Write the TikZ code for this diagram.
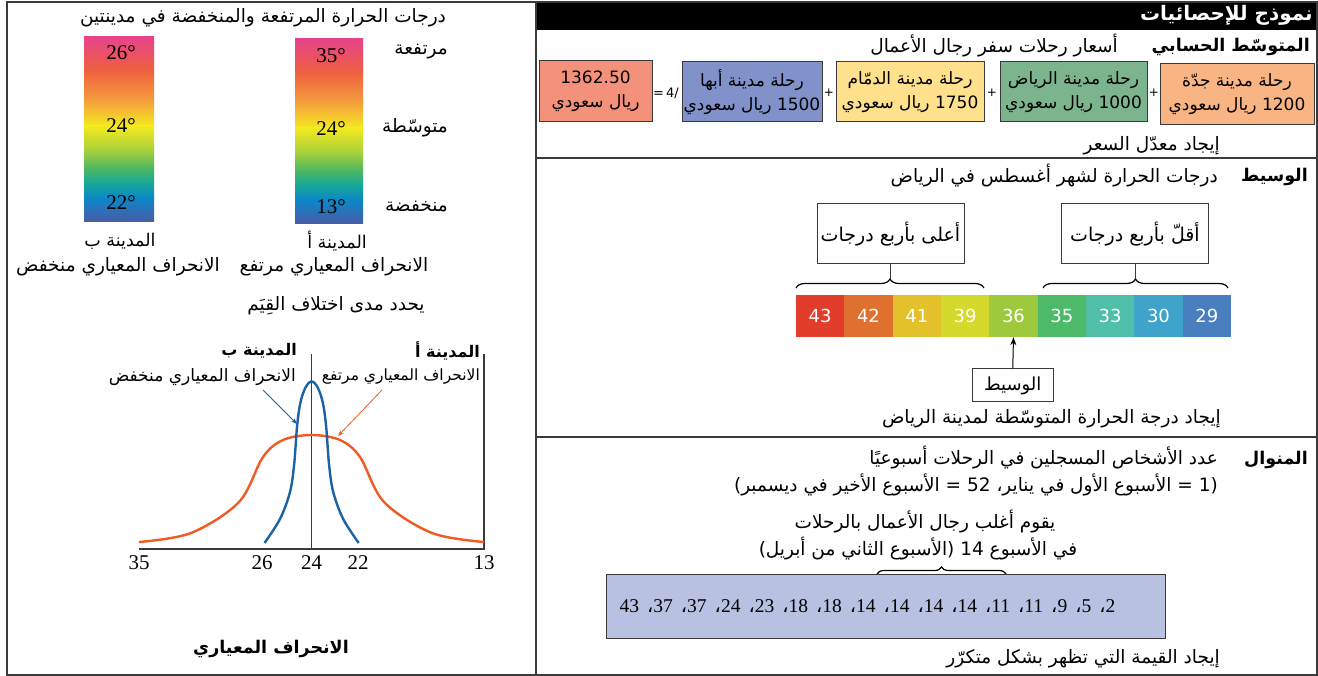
\documentclass[tikz,border=0pt]{standalone}
\usepackage{fontspec}
\setmainfont{Liberation Serif}
\newfontfamily\arfont[Script=Arabic]{DejaVu Sans}
\newfontfamily\symfont{DejaVu Sans}
\TeXXeTstate=1
\usetikzlibrary{decorations.pathreplacing,arrows.meta}
\newcommand\AR[1]{\beginR #1\endR}
\newcommand\lsep{{\arfont ،}\hskip 8pt\relax}

\definecolor{cLine}{HTML}{3A3A3A}
\definecolor{cOrangeBox}{HTML}{F9B483}
\definecolor{cGreenBox}{HTML}{7CB48E}
\definecolor{cYellowBox}{HTML}{FFE08D}
\definecolor{cBlueBox}{HTML}{8191CA}
\definecolor{cSalmonBox}{HTML}{F4917A}
\definecolor{cListBox}{HTML}{B8C1E1}
\definecolor{cCurveA}{HTML}{F05A24}
\definecolor{cCurveB}{HTML}{1C63A6}
% temperature strip
\definecolor{sA}{HTML}{E23C2B}
\definecolor{sB}{HTML}{E0702F}
\definecolor{sC}{HTML}{E2C12A}
\definecolor{sD}{HTML}{D4D92B}
\definecolor{sE}{HTML}{9DCA3C}
\definecolor{sF}{HTML}{4CBA68}
\definecolor{sG}{HTML}{4FBFA7}
\definecolor{sH}{HTML}{40A3CB}
\definecolor{sI}{HTML}{4A7FBF}
% thermometer gradient
\definecolor{gA}{HTML}{E6448A}
\definecolor{gB}{HTML}{EE603F}
\definecolor{gC}{HTML}{F59D3D}
\definecolor{gD}{HTML}{F4EA20}
\definecolor{gE}{HTML}{A9D03B}
\definecolor{gF}{HTML}{4CB762}
\definecolor{gG}{HTML}{17A79A}
\definecolor{gH}{HTML}{0B87C8}
\definecolor{gI}{HTML}{4A5BA7}

\newcommand\gradbar[4]{%
  \foreach \fa/\ca/\fb/\cb in {0/gA/0.18/gB,0.18/gB/0.34/gC,0.34/gC/0.48/gD,0.48/gD/0.61/gE,0.61/gE/0.71/gF,0.71/gF/0.79/gG,0.79/gG/0.87/gH,0.87/gH/1/gI}{%
    \shade[top color=\ca,bottom color=\cb] (#1,{#2+\fa*(#4-#2)}) rectangle (#3,{min(#4,#2+\fb*(#4-#2)+0.4)});
  }}

\tikzset{
  lbl/.style={inner sep=0pt,font=\arfont\fontsize{18.5}{22}\selectfont},
  lblm/.style={inner sep=0pt,font=\arfont\fontsize{17.5}{20}\selectfont},
  lbls/.style={inner sep=0pt,font=\arfont\fontsize{17}{20}\selectfont},
  lblb/.style={inner sep=0pt,font=\arfont\bfseries\fontsize{17.5}{20}\selectfont},
  lblbs/.style={inner sep=0pt,font=\arfont\bfseries\fontsize{16}{18}\selectfont},
  numr/.style={inner sep=0pt,font=\fontsize{21}{23}\selectfont},
  frame/.style={draw=cLine,line width=1.3pt},
  pricebox/.style={draw=cLine,line width=1pt,inner sep=0pt,align=center,
    font=\arfont\fontsize{17}{24}\selectfont},
  plus/.style={inner sep=0pt,font=\symfont\fontsize{12}{13}\selectfont},
  tagbox/.style={draw=cLine,line width=1pt,fill=white,inner sep=0pt,
    font=\arfont\fontsize{19}{22}\selectfont},
  cell/.style={inner sep=0pt,minimum width=48.4pt,minimum height=42pt,text=white,
    font=\arfont\fontsize{18}{20}\selectfont},
  bracestyle/.style={draw=black,line width=1.2pt,decorate,
    decoration={brace,amplitude=9pt}},
  curve/.style={line width=2.4pt,line join=round},
  pointer/.style={line width=0.8pt,-{Stealth[length=6pt,width=4.5pt]}},
}

\begin{document}
\begin{tikzpicture}[x=1pt,y=-1pt]
\useasboundingbox (0,0) rectangle (1318,676);
\fill[white] (0,0) rectangle (1318,676);

% ===== left panel =====
\draw[frame] (7,2) rectangle (536,675);
\node[lbl] (ltitle) at (263,18) {\AR{درجات الحرارة المرتفعة والمنخفضة في مدينتين}};

\gradbar{84}{37}{154}{222}
\gradbar{295}{39}{363}{224}
\node[numr] (b26) at (121,53) {26°};
\node[numr] (b24) at (121,126) {24°};
\node[numr] (b22) at (121,203) {22°};
\node[numr] (a35) at (331,56) {35°};
\node[numr] (a24) at (331,129) {24°};
\node[numr] (a13) at (331,207) {13°};

\node[lbl,anchor=east] (lvhi) at (448,52) {\AR{مرتفعة}};
\node[lbl,anchor=east] (lvmid) at (448,128) {\AR{متوسّطة}};
\node[lbl,anchor=east] (lvlo) at (448,207) {\AR{منخفضة}};

\node[lblm] (cityB) at (120,241) {\AR{المدينة ب}};
\node[lblm] (cityA) at (337,241) {\AR{المدينة أ}};
\node[lbl] (sdA) at (334,267) {\AR{الانحراف المعياري مرتفع}};
\node[lbl] (sdB) at (118,267) {\AR{الانحراف المعياري منخفض}};

\node[lbl] (range) at (336,306) {\AR{يحدد مدى اختلاف القِيَم}};

% axes
\coordinate (ax0) at (139,549);
\coordinate (ax1) at (484,549);
\coordinate (mid0) at (311.6,354);
\coordinate (mid1) at (311.6,549);
\coordinate (rt0) at (484,354);
\draw[line width=1.1pt,cLine] (ax0) -- (ax1) -- (rt0);
\draw[line width=1.1pt,cLine] (mid0) -- (mid1);
\node[numr] (t35) at (139,563) {35};
\node[numr] (t26) at (262,563) {26};
\node[numr] (t24) at (311.6,563) {24};
\node[numr] (t22) at (358,563) {22};
\node[numr] (t13) at (484,563) {13};

% distribution curves
\draw[curve,cCurveA] plot[smooth,tension=0.55] coordinates {(139,542) (191,533) (239,502) (263,457) (283,440) (311.6,435) (340,440) (360,457) (384,502) (432,533) (484,542)};
\draw[curve,cCurveB] plot[smooth,tension=0.55] coordinates {(264.5,543) (280,519) (290,492) (294.2,464) (297,427) (300.3,403) (305.5,387.5) (311.6,381.4) (317.7,387.5) (322.9,403) (326.2,427) (329,464) (333.2,492) (343.2,519) (358.7,543)};

\node[lblbs,anchor=east] (hB) at (297,351) {\AR{المدينة ب}};
\node[lbls,anchor=east] (hBsd) at (296,377) {\AR{الانحراف المعياري منخفض}};
\node[lblbs,anchor=east] (hA) at (480,351) {\AR{المدينة أ}};
\node[lbls,anchor=east,font=\arfont\fontsize{15.5}{18}\selectfont] (hAsd) at (480,377) {\AR{الانحراف المعياري مرتفع}};
\coordinate (pB0) at (263,390);
\coordinate (pB1) at (297,424);
\coordinate (pA0) at (382,390);
\coordinate (pA1) at (338,436);
\draw[pointer,cCurveB] (pB0) -- (pB1);
\draw[pointer,cCurveA] (pA0) -- (pA1);

\node[lblb] (sdtitle) at (271,649) {\AR{الانحراف المعياري}};

% ===== right panel =====
\fill[black] (536,2) rectangle (1317,30);
\draw[frame] (536,2) rectangle (1317,675);
\draw[frame] (536,158) -- (1317,158);
\draw[frame] (536,437) -- (1317,437);
\node[text=white,anchor=east,inner sep=0pt,font=\arfont\bfseries\fontsize{20}{22}\selectfont] (head) at (1313,15) {\AR{نموذج للإحصائيات}};

% arithmetic mean
\node[lblb,anchor=east] (meanT) at (1310,47) {\AR{المتوسّط الحسابي}};
\node[lbl,anchor=east] (meanS) at (1118,46) {\AR{أسعار رحلات سفر رجال الأعمال}};

\node[pricebox,fill=cOrangeBox,minimum width=154pt,minimum height=61pt] (jed) at (1237,94.5)
  {\AR{رحلة مدينة جدّة}\\\AR{1200 ريال سعودي}};
\node[pricebox,fill=cGreenBox,minimum width=147pt,minimum height=60pt] (ruh) at (1073.5,92)
  {\AR{رحلة مدينة الرياض}\\\AR{1000 ريال سعودي}};
\node[pricebox,fill=cYellowBox,minimum width=148pt,minimum height=60pt] (dmm) at (910,92)
  {\AR{رحلة مدينة الدمّام}\\\AR{1750 ريال سعودي}};
\node[pricebox,fill=cBlueBox,minimum width=140pt,minimum height=60pt] (abh) at (752,92)
  {\AR{رحلة مدينة أبها}\\\AR{1500 ريال سعودي}};
\node[pricebox,fill=cSalmonBox,minimum width=113pt,minimum height=61pt] (avg) at (595.5,91.5)
  {1362.50\\\AR{ريال سعودي}};
\node[plus] (p1) at (1154,93) {+};
\node[plus] (p2) at (992,93) {+};
\node[plus] (p3) at (829,93) {+};
\node[plus,font=\symfont\fontsize{13}{14}\selectfont] (div) at (666,93) {=\,4/};

\node[lbl,anchor=east] (meanF) at (1220,146) {\AR{إيجاد معدّل السعر}};

% median
\node[lblb,anchor=east] (medT) at (1308,177) {\AR{الوسيط}};
\node[lbl,anchor=east] (medS) at (1218,176) {\AR{درجات الحرارة لشهر أغسطس في الرياض}};

\node[tagbox,minimum width=147pt,minimum height=60pt] (hi4) at (890.5,234) {\AR{أعلى بأربع درجات}};
\node[tagbox,minimum width=147pt,minimum height=60pt] (lo4) at (1135,234) {\AR{أقلّ بأربع درجات}};

\foreach \v/\col [count=\i from 0] in {43/sA,42/sB,41/sC,39/sD,36/sE,35/sF,33/sG,30/sH,29/sI}{
  \node[cell,fill=\col] (c\i) at ({796+48.33*(\i+0.5)},316) {\v};
}

\coordinate (bl0) at (796,288);
\coordinate (bl1) at (984,288);
\coordinate (bltip) at (890,279);
\coordinate (br0) at (1043,288);
\coordinate (br1) at (1228,288);
\coordinate (brtip) at (1135.5,279);
\draw[bracestyle] (bl0) -- (bl1);
\draw[bracestyle] (br0) -- (br1);
\draw[line width=1pt,cLine] (hi4.south) -- (hi4.south |- bltip);
\draw[line width=1pt,cLine] (lo4.south) -- (lo4.south |- brtip);

\node[tagbox,minimum width=81.5pt,minimum height=33pt,font=\arfont\fontsize{18}{20}\selectfont] (medbox) at (1012.75,385.5) {\AR{الوسيط}};
\draw[line width=1pt,-{Stealth[length=8pt,width=6pt]}] (medbox.north) -- (c4.south);

\node[lbl,anchor=east] (medF) at (1221,419) {\AR{إيجاد درجة الحرارة المتوسّطة لمدينة الرياض}};

% mode
\node[lblb,anchor=east] (modT) at (1308,460) {\AR{المنوال}};
\node[lbl,anchor=east] (modS) at (1218,458) {\AR{عدد الأشخاص المسجلين في الرحلات أسبوعيًا}};
\node[lbl,anchor=east] (modS2) at (1218,485) {\AR{(1 = الأسبوع الأول في يناير، 52 = الأسبوع الأخير في ديسمبر)}};
\node[lbl] (modN1) at (925,522) {\AR{يقوم أغلب رجال الأعمال بالرحلات}};
\node[lbl] (modN2) at (918,549) {\AR{في الأسبوع 14 (الأسبوع الثاني من أبريل)}};

\coordinate (bm0) at (877,574);
\coordinate (bm1) at (1006,574);
\draw[bracestyle,decoration={brace,amplitude=7pt}] (bm0) -- (bm1);

\node[draw=cLine,line width=1pt,fill=cListBox,minimum width=559pt,minimum height=64pt,inner sep=0pt] (list) at (885.5,606) {};
\node[inner sep=0pt,font=\fontsize{19.5}{22}\selectfont] (weeks) at (867.5,606)
  {\beginR 2\lsep 5\lsep 9\lsep 11\lsep 11\lsep 14\lsep 14\lsep 14\lsep 14\lsep 18\lsep 18\lsep 23\lsep 24\lsep 37\lsep 37\lsep 43\endR};

\node[lbl,anchor=east] (modF) at (1220,659) {\AR{إيجاد القيمة التي تظهر بشكل متكرّر}};
\end{tikzpicture}
\end{document}
